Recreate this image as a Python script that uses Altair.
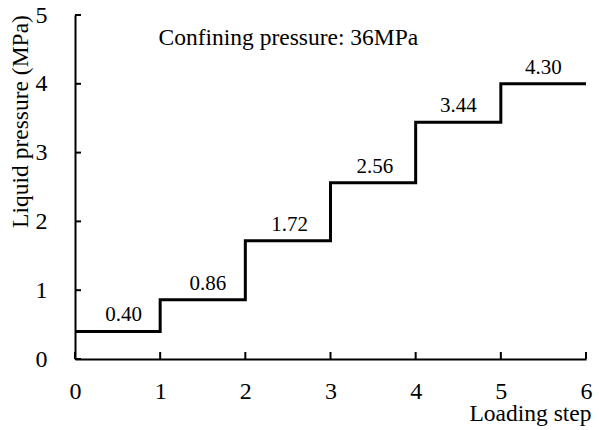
import altair as alt
import pandas as pd

# ---- data ----
steps = [0, 1, 2, 3, 4, 5]
step_values = [0.40, 0.86, 1.72, 2.56, 3.44, 4.00]
label_texts = ["0.40", "0.86", "1.72", "2.56", "3.44", "4.30"]
label_x = [0.57, 1.56, 2.52, 3.52, 4.50, 5.50]
x_ticks = [0, 1, 2, 3, 4, 5, 6]
y_ticks = [0, 1, 2, 3, 4, 5]
annotation = "Confining pressure: 36MPa"
ann_x, ann_y = 2.505, 4.57

FONT = "Times New Roman, Liberation Serif, Tinos, DejaVu Serif, serif"
W, H = 511, 344

line_df = pd.DataFrame({"x": steps + [6], "y": step_values + [step_values[-1]]})
lab_df = pd.DataFrame({"x": label_x, "y": step_values, "t": label_texts})
ann_df = pd.DataFrame({"x": [ann_x], "y": [ann_y], "t": [annotation]})
xt_df = pd.DataFrame({"x": x_ticks})
yt_df = pd.DataFrame({"y": y_ticks})

xscale = alt.Scale(domain=[0, 6], nice=False, zero=False)
yscale = alt.Scale(domain=[0, 5], nice=False, zero=False)

xaxis = alt.Axis(values=x_ticks, format="d", ticks=False, grid=False,
                 domainColor="black", domainWidth=2,
                 labelFont=FONT, labelFontSize=24, labelColor="black",
                 labelPadding=20, labelFlush=False,
                 title="Loading step", titleFont=FONT, titleFontSize=23.5,
                 titleFontWeight="normal", titleColor="black",
                 titleX=516, titleY=61, titleAlign="right",
                 titleBaseline="alphabetic")
yaxis = alt.Axis(values=y_ticks, format="d", ticks=False, grid=False,
                 domainColor="black", domainWidth=2,
                 labelFont=FONT, labelFontSize=24, labelColor="black",
                 labelPadding=28, labelFlush=False,
                 title="Liquid pressure (MPa)", titleFont=FONT,
                 titleFontSize=23.5, titleFontWeight="normal",
                 titleColor="black", titleX=-48, titleY=106,
                 titleAlign="center", titleBaseline="alphabetic",
                 titleAngle=-90)

line = alt.Chart(line_df).mark_line(
    interpolate="step-after", color="black", strokeWidth=3
).encode(
    x=alt.X("x:Q", scale=xscale, axis=xaxis),
    y=alt.Y("y:Q", scale=yscale, axis=yaxis),
)

labels = alt.Chart(lab_df).mark_text(
    font=FONT, fontSize=21, color="black", baseline="alphabetic",
    align="center", dy=-10
).encode(x=alt.X("x:Q", scale=xscale), y=alt.Y("y:Q", scale=yscale), text="t:N")

ann = alt.Chart(ann_df).mark_text(
    font=FONT, fontSize=23.5, color="black", baseline="alphabetic",
    align="center"
).encode(x=alt.X("x:Q", scale=xscale), y=alt.Y("y:Q", scale=yscale), text="t:N")

yticks = alt.Chart(yt_df).mark_rule(color="black", strokeWidth=2).encode(
    y=alt.Y("y:Q", scale=yscale), x=alt.value(0), x2=alt.value(6)
)
xticks = alt.Chart(xt_df).mark_rule(color="black", strokeWidth=2).encode(
    x=alt.X("x:Q", scale=xscale), y=alt.value(H), y2=alt.value(H - 7)
)

chart = alt.layer(line, labels, ann, yticks, xticks).properties(
    width=W, height=H,
    autosize=alt.AutoSizeParams(type="none"),
    padding={"left": 75, "top": 15, "right": 13, "bottom": 71},
    background="white",
).configure_view(stroke=None)

chart.save("out.html", embed_options={"renderer": "svg", "actions": False})
